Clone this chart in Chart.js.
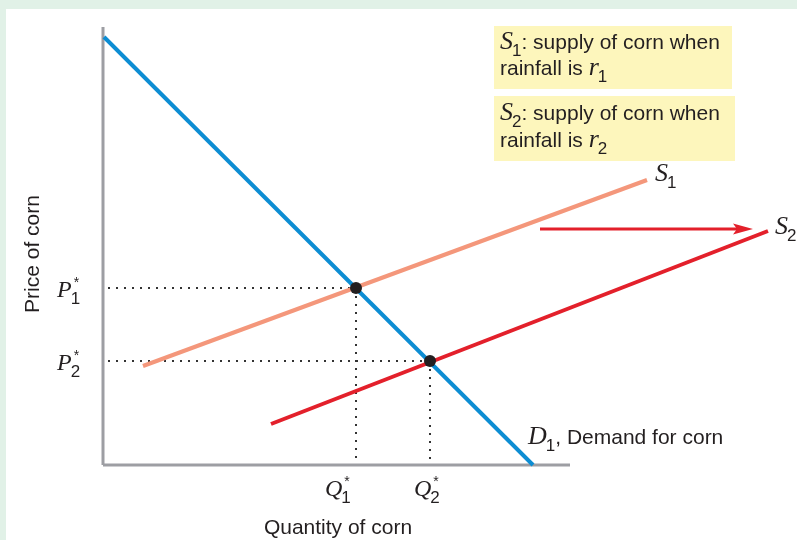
<!DOCTYPE html>
<html>
<head>
<meta charset="utf-8">
<script src="https://cdn.jsdelivr.net/npm/chart.js@4/dist/chart.umd.min.js"></script>
<style>
  html, body { margin: 0; padding: 0; background: #e1f1e7; }
  #panel { position: absolute; left: 6px; top: 9px; width: 791px; height: 531px; background: #fff; }
  #chart { position: absolute; left: 0; top: 0; }
</style>
</head>
<body>
<div id="panel"></div>
<canvas id="chart" width="797" height="540"></canvas>
<script>
const BLUE = "#0d8dd3";
const SALMON = "#f4977b";
const RED = "#e3202b";
const AXIS = "#9d9ea3";
const INK = "#231f20";
const SANS = "'Liberation Sans', Arial, sans-serif";
const SERIF = "'Liberation Serif', 'Times New Roman', serif";

// quantity / price values
const axisQ = [0, 467];
const axisP = [0, 438];
const demandQ = [1, 430];
const demandP = [428, 0];
const supply1Q = [40, 544];
const supply1P = [99, 285];
const supply2Q = [168, 665];
const supply2P = [41, 234];
const eqQ = [253, 327];
const eqP = [177, 104];
const shiftQ = [437, 650];
const shiftP = [236, 236];
const eqNames = ["1", "2"];

const pts = (qs, ps) => qs.map((q, i) => ({ x: q, y: ps[i] }));

function line(data, color, width, extra) {
  return Object.assign({
    data: data, showLine: true, borderColor: color, borderWidth: width,
    pointRadius: 0, clip: false, tension: 0,
  }, extra || {});
}

const guides = [];
eqQ.forEach((q, i) => {
  guides.push(line([{ x: 5, y: eqP[i] }, { x: q, y: eqP[i] }], "#333", 2, { borderDash: [2, 6], order: 8 }));
  guides.push(line([{ x: q, y: eqP[i] }, { x: q, y: 2 }], "#333", 2, { borderDash: [2, 6], order: 8 }));
});

// italic serif letter + sans subscript (+ optional star)
function symbol(ctx, x, y, letter, sub, star, size) {
  size = size || 26;
  ctx.font = "italic " + size + "px " + SERIF;
  ctx.fillText(letter, x, y);
  let w = ctx.measureText(letter).width;
  ctx.font = "17px " + SANS;
  ctx.fillText(sub, x + w - 1, y + 7);
  if (star) {
    ctx.font = "14px " + SANS;
    ctx.fillText("*", x + w + 2, y - 10);
  }
  ctx.font = "17px " + SANS;
  return x + w - 1 + ctx.measureText(sub).width;
}

const annotations = {
  id: "annotations",
  afterDatasetsDraw(chart) {
    const ctx = chart.ctx;
    const xs = chart.scales.x, ys = chart.scales.y;
    ctx.save();
    ctx.textBaseline = "alphabetic";

    // shift arrow
    const x0 = xs.getPixelForValue(shiftQ[0]), x1 = xs.getPixelForValue(shiftQ[1]);
    const ya = ys.getPixelForValue(shiftP[0]);
    ctx.strokeStyle = RED; ctx.lineWidth = 3;
    ctx.beginPath(); ctx.moveTo(x0, ya); ctx.lineTo(x1 - 16, ya); ctx.stroke();
    ctx.fillStyle = RED;
    ctx.beginPath(); ctx.moveTo(x1, ya); ctx.lineTo(x1 - 20, ya - 5.5); ctx.lineTo(x1 - 16, ya); ctx.lineTo(x1 - 20, ya + 5.5); ctx.closePath(); ctx.fill();

    // legend boxes
    ctx.fillStyle = "#fdf6bc";
    ctx.fillRect(494, 26, 238, 63);
    ctx.fillRect(494, 96, 241, 65);
    ctx.fillStyle = INK;
    [[49, 75], [120, 147]].forEach((b, i) => {
      let x = symbol(ctx, 500, b[0], "S", eqNames[i], false);
      ctx.font = "21px " + SANS;
      ctx.fillText(": supply of corn when", x, b[0]);
      ctx.fillText("rainfall is ", 500, b[1]);
      let w = ctx.measureText("rainfall is ").width;
      symbol(ctx, 500 + w, b[1], "r", eqNames[i], false);
    });

    // curve labels
    symbol(ctx, 655, 181, "S", "1", false);
    symbol(ctx, 775, 234, "S", "2", false);
    let dx = symbol(ctx, 528, 444, "D", "1", false, 26);
    ctx.font = "21px " + SANS;
    ctx.fillText(", Demand for corn", dx, 444);

    // equilibrium labels
    const qOff = [-31, -16];
    eqP.forEach((p, i) => {
      symbol(ctx, 57, ys.getPixelForValue(p) + 9, "P", eqNames[i], true, 24);
      symbol(ctx, xs.getPixelForValue(eqQ[i]) + qOff[i], 496, "Q", eqNames[i], true, 24);
    });

    // axis titles
    ctx.font = "21px " + SANS;
    ctx.textAlign = "center";
    ctx.fillText("Quantity of corn", 338, 534);
    ctx.translate(39, 254);
    ctx.rotate(-Math.PI / 2);
    ctx.fillText("Price of corn", 0, 0);
    ctx.restore();
  }
};

new Chart(document.getElementById("chart"), {
  type: "scatter",
  data: {
    datasets: [
      { data: pts(eqQ, eqP), pointRadius: 6, pointBackgroundColor: INK, pointBorderWidth: 0, clip: false, order: 0 },
      line(pts(demandQ, demandP), BLUE, 4, { order: 1 }),
      line(pts(supply2Q, supply2P), RED, 4, { order: 2 }),
      line(pts(supply1Q, supply1P), SALMON, 4, { order: 3 }),
      ...guides,
      line([{ x: axisQ[0], y: 0 }, { x: axisQ[1], y: 0 }], AXIS, 3, { order: 9 }),
      line([{ x: 0, y: axisP[0] }, { x: 0, y: axisP[1] }], AXIS, 3, { order: 9 }),
    ],
  },
  options: {
    responsive: false,
    animation: false,
    layout: { autoPadding: false, padding: { left: 103, top: 27, right: 0, bottom: 75 } },
    scales: {
      x: { type: "linear", min: 0, max: 694, display: false },
      y: { type: "linear", min: 0, max: 438, display: false },
    },
    plugins: { legend: { display: false }, tooltip: { enabled: false } },
  },
  plugins: [annotations],
});
</script>
</body>
</html>
